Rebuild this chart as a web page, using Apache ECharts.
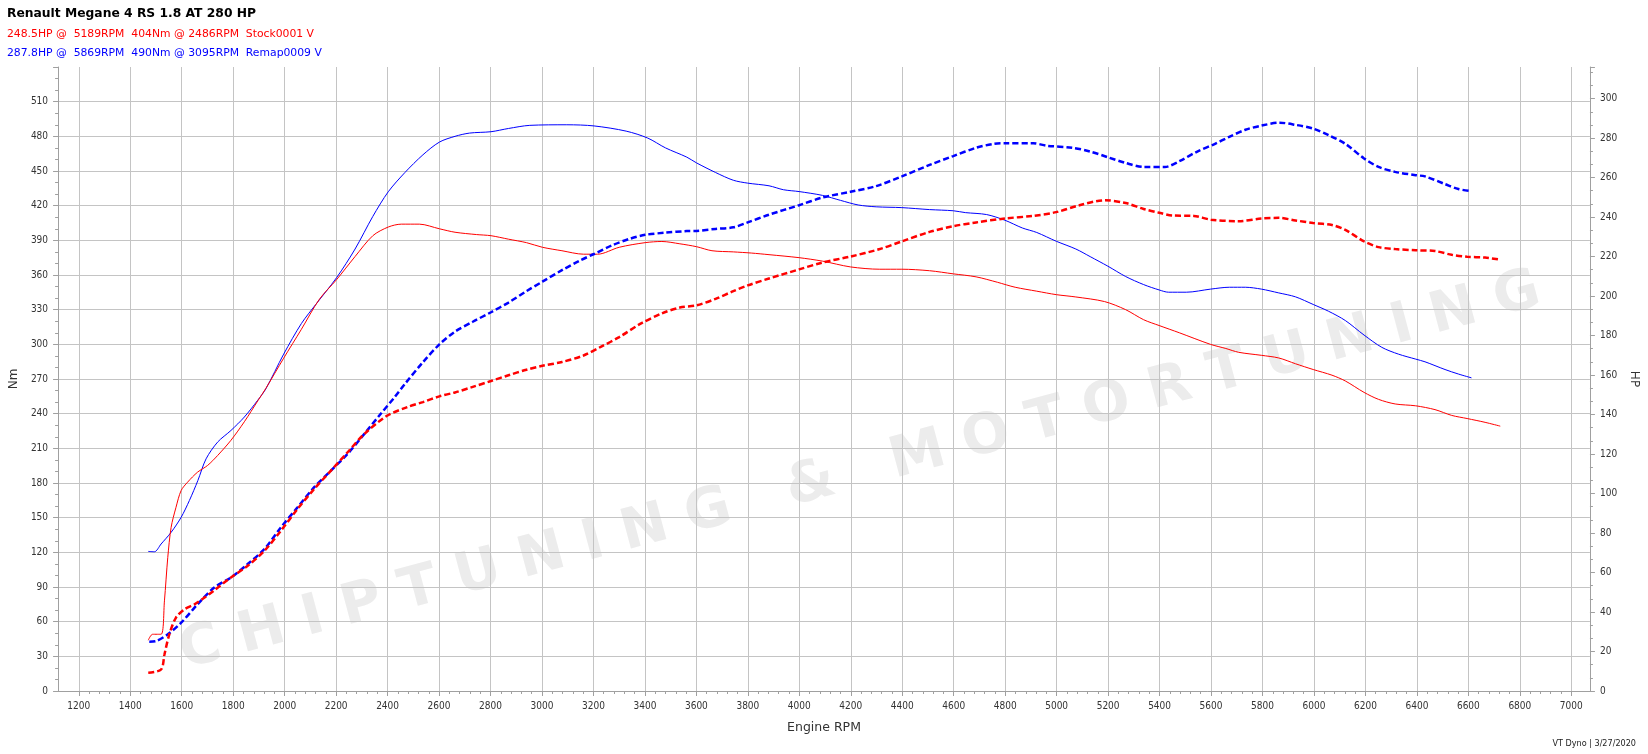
<!DOCTYPE html>
<html>
<head>
<meta charset="utf-8">
<script src="https://cdn.jsdelivr.net/npm/echarts@6/dist/echarts.min.js"></script>
<style>
html,body{margin:0;padding:0;background:#fff;}
#chart{width:1648px;height:754px;}
</style>
</head>
<body>
<div id="chart"></div>
<script>
// ---------- DATA ----------
const chartTitle = 'Renault Megane 4 RS 1.8 AT 280 HP';
const stockLabel = '248.5HP @  5189RPM  404Nm @ 2486RPM  Stock0001 V';
const remapLabel = '287.8HP @  5869RPM  490Nm @ 3095RPM  Remap0009 V';
const footerLabel = 'VT Dyno | 3/27/2020';
const watermarkText = 'C H I P T U N I N G   &   M O T O R T U N I N G';
const xName = 'Engine RPM';
const leftName = 'Nm';
const rightName = 'HP';

// Stock torque (Nm)
const stockTqRpm = [1466,1483,1516,1529,1542,1555,1574,1594,1619,1658,1697,1736,1788,1840,1892,1924,1993,2062,2132,2199,2271,2340,2400,2451,2486,2521,2599,2660,2743,2800,2868,2938,3000,3076,3160,3215,3299,3400,3465,3535,3600,3660,3743,3813,3882,3999,4090,4199,4313,4399,4507,4599,4688,4771,4840,4924,5000,5076,5188,5270,5340,5400,5479,5600,5660,5710,5798,5866,5931,6000,6073,6125,6198,6254,6319,6399,6474,6539,6599,6669,6728];
const stockTq = [43.9,49.1,49.1,78,115.6,141.6,159,173.5,180.7,189.4,195.2,203.8,217,233,251,262,288,313,339,356,376,394,401.5,404,404,404,400,397,395,394,391,388,384,381,378,378,384,388,389,387,384.5,381,380,379,377.6,375,372,367,365,365,363.7,361,358.4,353.7,349.4,346,343,341,337,330,321.3,316.3,310,300,296.4,293.1,290.5,288.2,283.2,278.2,273.3,268.3,258.4,252.4,248.4,246.8,243.5,238.5,235.8,232.5,229.2];

// Remap torque (Nm)
const remapTqRpm = [1466,1490,1516,1555,1594,1626,1659,1691,1736,1788,1840,1892,1924,1993,2062,2118,2199,2271,2340,2400,2465,2535,2599,2660,2716,2800,2868,2951,3095,3201,3326,3410,3479,3562,3600,3674,3743,3799,3882,3938,3999,4090,4160,4229,4299,4399,4507,4599,4646,4729,4800,4868,4924,5000,5076,5132,5201,5270,5340,5400,5437,5506,5601,5674,5736,5798,5866,5931,6000,6060,6125,6198,6267,6332,6399,6435,6513,6565,6616];
const remapTq = [120.8,120.5,127.2,137.3,150.3,164.8,182.1,200.9,215.4,225.5,237.1,251.6,261.6,291.5,318,334.5,357.7,382.5,410.7,432,448.7,464,475,480,482.8,484,486.8,489.5,490,489,484.5,478.5,470,462,457,448.7,442,439.5,437.2,433.8,432.2,428.9,424.6,420.6,419,418.3,416.6,415.6,414,412.3,407.4,400.7,396.8,389.2,382.5,375.9,367.6,358.7,351.7,347.1,345.1,345.1,347.8,349.4,349.4,347.8,344.5,341.1,334.5,328.6,320.6,308,297.4,291.5,287.2,284.9,278.2,274.3,271];

// Stock power (HP)
const stockHpRpm = [1466,1516,1529,1548,1574,1607,1646,1685,1723,1788,1853,1918,1982,2047,2112,2177,2242,2307,2397,2475,2535,2599,2660,2729,2800,2868,2938,3000,3076,3160,3229,3299,3382,3465,3535,3600,3674,3743,3799,3882,3999,4090,4199,4313,4399,4507,4599,4688,4800,4910,5000,5090,5189,5270,5340,5400,5451,5535,5601,5710,5798,5866,5931,6000,6073,6125,6198,6254,6319,6399,6474,6539,6599,6669,6728];
const stockHp = [9.2,10.9,18.5,28.7,37.2,41.4,43.9,47.3,51,57.5,63.4,71,81.1,92.2,102.3,111.6,120.9,130.2,139.5,143.8,146.3,149.2,151.2,154,157,159.9,162.7,164.7,166.6,169.9,174.4,179.2,186,191.2,194.2,195.3,198.6,202.5,205.4,208.9,213.5,217,220,223.8,227.7,232.5,235.4,237.3,239.3,240.6,242.5,246,248.5,247.1,244.1,242.2,240.8,240.6,238.7,237.9,239.3,239.6,238.3,237,236,233.5,227.7,224.8,223.8,223.2,222.8,220.9,219.9,219.5,218.4];

// Remap power (HP)
const remapHpRpm = [1470,1496,1542,1594,1658,1723,1788,1853,1918,1982,2047,2112,2177,2242,2307,2371,2423,2465,2535,2599,2660,2729,2800,2868,2938,3000,3076,3146,3201,3271,3340,3400,3479,3562,3600,3674,3743,3799,3882,3999,4090,4199,4299,4399,4507,4599,4688,4757,4800,4910,4965,5063,5132,5201,5270,5340,5423,5479,5549,5618,5671,5736,5798,5869,5931,6000,6060,6125,6198,6254,6319,6399,6435,6513,6565,6614];
const remapHp = [25,25.3,28.7,34.6,43.9,52.4,57.5,64.3,71.9,82.8,93,103.2,111.6,120.1,130.2,140.4,148.5,155.5,166.5,175.5,182,187,191.8,196.7,202.5,207.3,213.1,218,221.3,225.7,229,231,232.1,232.9,233,234,234.8,237.3,241.2,246,249.9,252.8,255.7,260.6,266.4,270.9,275.1,277.1,277.4,277.4,276.1,275.1,273.2,270.3,267.4,265.4,265.4,268.3,273.2,277.1,280.5,284.2,286.3,287.8,286.7,284.8,281.5,277.1,269.7,265.4,262.9,261.2,260.6,256.7,254.2,253.2];

// ---------- CHART ----------
function zip(xs, ys){ return xs.map((x,i)=>[x, ys[i]]); }

const FONT = "'DejaVu Sans Condensed', 'DejaVu Sans', sans-serif";
const FONT2 = "'DejaVu Sans', sans-serif";
const axisCol = '#a0a0a0';
const gridCol = '#c4c4c4';
const labelCol = '#333333';

const chart = echarts.init(document.getElementById('chart'), null, {renderer:'canvas'});

const option = {
  animation: false,
  backgroundColor: '#ffffff',
  title: [
    {text: chartTitle, left: 7, top: 8, padding: 0, textStyle:{fontFamily: FONT2, fontSize: 12.3, fontWeight:'bold', color:'#000'}},
    {text: stockLabel, left: 7, top: 29, padding: 0, textStyle:{fontFamily: FONT2, fontSize: 10.8, fontWeight:'normal', color:'#ff0000'}},
    {text: remapLabel, left: 7, top: 48, padding: 0, textStyle:{fontFamily: FONT2, fontSize: 10.8, fontWeight:'normal', color:'#0000ff'}},
    {text: footerLabel, right: 12, top: 739, padding: 0, textStyle:{fontFamily: FONT, fontSize: 9, fontWeight:'normal', color:'#222'}}
  ],
  graphic: [{
    type: 'text', z: -10, x: 860, y: 472, rotation: 0.262,
    style: {text: watermarkText, fill: '#ececec',
            font: "bold 56px 'DejaVu Sans', sans-serif", textAlign: 'center', textVerticalAlign: 'middle'}
  }],
  grid: [
    {left: 57, right: 57, top: 67, bottom: 63, containLabel: false},
    {left: 78.8, right: 76.7, top: 67, bottom: 63, containLabel: false}
  ],
  xAxis: [
    {gridIndex: 0, type: 'value', min: 1115, max: 7077,
     axisLine: {show: true, lineStyle: {color: axisCol}},
     axisTick: {show: false}, axisLabel: {show: false}, splitLine: {show: false},
     name: xName, nameLocation: 'middle', nameGap: 30,
     nameTextStyle: {fontFamily: FONT2, fontSize: 12.5, color: labelCol}},
    {gridIndex: 1, type: 'value', min: 1200, max: 7000, interval: 200,
     axisLine: {show: false},
     axisTick: {show: true, length: 5, lineStyle: {color: axisCol}},
     minorTick: {show: true, splitNumber: 5, length: 3, lineStyle: {color: axisCol}},
     axisLabel: {fontFamily: FONT, fontSize: 10, color: labelCol, margin: 10, formatter: v => String(v)},
     splitLine: {show: true, lineStyle: {color: gridCol, width: 1}}}
  ],
  yAxis: [
    {gridIndex: 0, type: 'value', min: 0, max: 540, interval: 30, position: 'left',
     axisLine: {show: true, lineStyle: {color: axisCol}},
     axisTick: {show: true, length: 5, lineStyle: {color: axisCol}},
     minorTick: {show: true, splitNumber: 3, length: 3, lineStyle: {color: axisCol}},
     axisLabel: {fontFamily: FONT, fontSize: 10, color: labelCol, margin: 10, showMaxLabel: false, formatter: v => String(v)},
     splitLine: {show: true, showMinLine: false, showMaxLine: false, lineStyle: {color: gridCol, width: 1}},
     name: leftName, nameLocation: 'middle', nameGap: 38,
     nameTextStyle: {fontFamily: FONT2, fontSize: 12, color: labelCol}},
    {gridIndex: 0, type: 'value', min: 0, max: 316, interval: 20, position: 'right',
     axisLine: {show: true, lineStyle: {color: axisCol}},
     axisTick: {show: true, length: 5, lineStyle: {color: axisCol}},
     minorTick: {show: true, splitNumber: 3, length: 3, lineStyle: {color: axisCol}},
     axisLabel: {fontFamily: FONT, fontSize: 10, color: labelCol, margin: 10, showMaxLabel: false, formatter: v => String(v)},
     splitLine: {show: false},
     name: rightName, nameLocation: 'middle', nameGap: 36, nameRotate: -90,
     nameTextStyle: {fontFamily: FONT2, fontSize: 12, color: labelCol}},
    {gridIndex: 1, type: 'value', min: 0, max: 540, show: false}
  ],
  series: [
    {name: 'Remap Nm', type: 'line', xAxisIndex: 0, yAxisIndex: 0, data: zip(remapTqRpm, remapTq),
     showSymbol: false, smooth: 0.3, lineStyle: {color: '#0000ff', width: 1}, z: 3},
    {name: 'Stock Nm', type: 'line', xAxisIndex: 0, yAxisIndex: 0, data: zip(stockTqRpm, stockTq),
     showSymbol: false, smooth: 0.3, lineStyle: {color: '#ff0000', width: 1}, z: 4},
    {name: 'Remap HP', type: 'line', xAxisIndex: 0, yAxisIndex: 1, data: zip(remapHpRpm, remapHp),
     showSymbol: false, smooth: 0.3, lineStyle: {color: '#0000ff', width: 2.5, type: [6, 3]}, z: 5},
    {name: 'Stock HP', type: 'line', xAxisIndex: 0, yAxisIndex: 1, data: zip(stockHpRpm, stockHp),
     showSymbol: false, smooth: 0.3, lineStyle: {color: '#ff0000', width: 2.5, type: [6, 3]}, z: 6}
  ]
};
chart.setOption(option);
</script>
</body>
</html>
